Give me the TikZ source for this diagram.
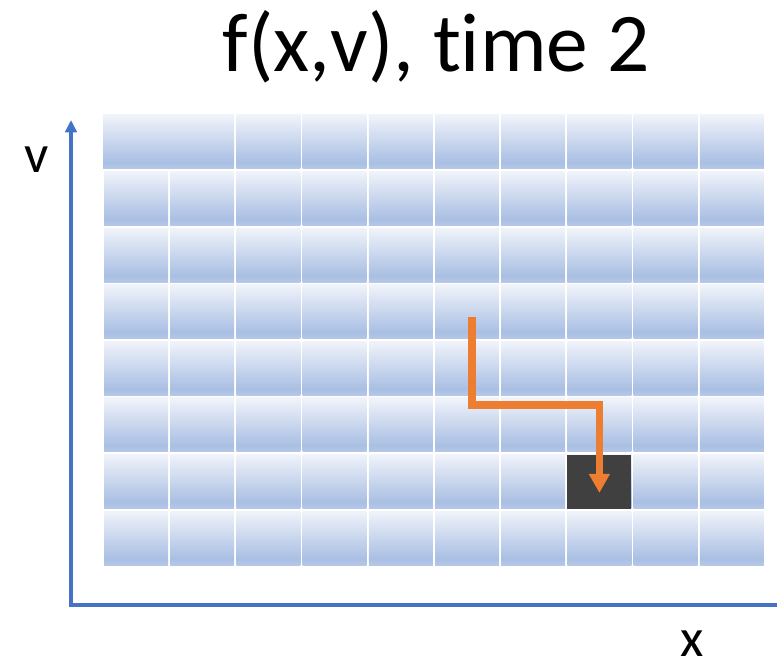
\documentclass[tikz,border=0pt]{standalone}
\usepackage{fontspec}
\setmainfont{Carlito}[Ligatures=CommonOff]
\usetikzlibrary{arrows.meta, calc}
\definecolor{axisblue}{HTML}{4472C4}
\definecolor{flowor}{HTML}{ED7D31}
\definecolor{cellhit}{HTML}{404040}
\definecolor{celltop}{HTML}{F0F3FA}
\definecolor{cellbot}{HTML}{A9BFE3}
\definecolor{cellrim}{HTML}{B6C8E8}
\pgfdeclareverticalshading{cellfade}{100bp}{color(0bp)=(cellrim); color(25bp)=(cellrim);
  color(31bp)=(cellbot); color(75bp)=(celltop); color(100bp)=(celltop)}
\tikzset{
  cell/.style     = {shading=cellfade},
  hitcell/.style  = {rectangle, fill=cellhit, inner sep=0pt,
                     minimum width=1.28cm, minimum height=1.08cm},
  axisline/.style = {draw=axisblue, line width=2pt, line join=miter},
  flowpath/.style = {draw=flowor, line width=4pt, line join=miter,
                     -{Triangle[length=10.8pt, width=11.3pt]}},
  axlab/.style    = {font=\fontsize{30.6}{34}\selectfont, inner sep=0pt, anchor=base},
}

\begin{document}
\begin{tikzpicture}[x=0.02cm, y=0.02cm]
  \useasboundingbox (0,0) rectangle (777,666);
  % cells, 10 columns x 8 rows; top row has the first two merged
  \shade[cell] (103,551) rectangle (234,497);
  \foreach \i in {2,...,9}{\shade[cell] ({104+66.2*\i},551) rectangle +(64,-54);}
  \foreach \i in {0,...,9}{\foreach \j in {1,...,7}{%
    \shade[cell] ({104+66.2*\i},{551-56.6*\j}) rectangle +(64,-54);}}
  \node[hitcell] (hit) at (599.4,184.4) {};
  % axes
  \coordinate (origin) at (71,61);
  \coordinate (vtip) at (71,546);
  \coordinate (xend) at (777,61);
  \draw[axisline, {Triangle[length=7pt, width=6.5pt]}-] (vtip) -- (origin) -- (xend);
  \node[axlab] (vlab) at (37,493) {v};
  \node[axlab] (xlab) at (692,10) {x};
  % path of the point
  \coordinate (pstart) at (472,349);
  \coordinate (pbend) at (472,261);
  \coordinate (pturn) at (hit.center |- pbend);
  \draw[flowpath] (pstart) -- (pbend) -- (pturn) -- ($(hit.south)+(0,16)$);
  \node[anchor=base, font=\fontsize{47.5}{54}\selectfont, inner sep=0pt] (title)
    at (436,594) {f(x,v), time 2};
\end{tikzpicture}
\end{document}
